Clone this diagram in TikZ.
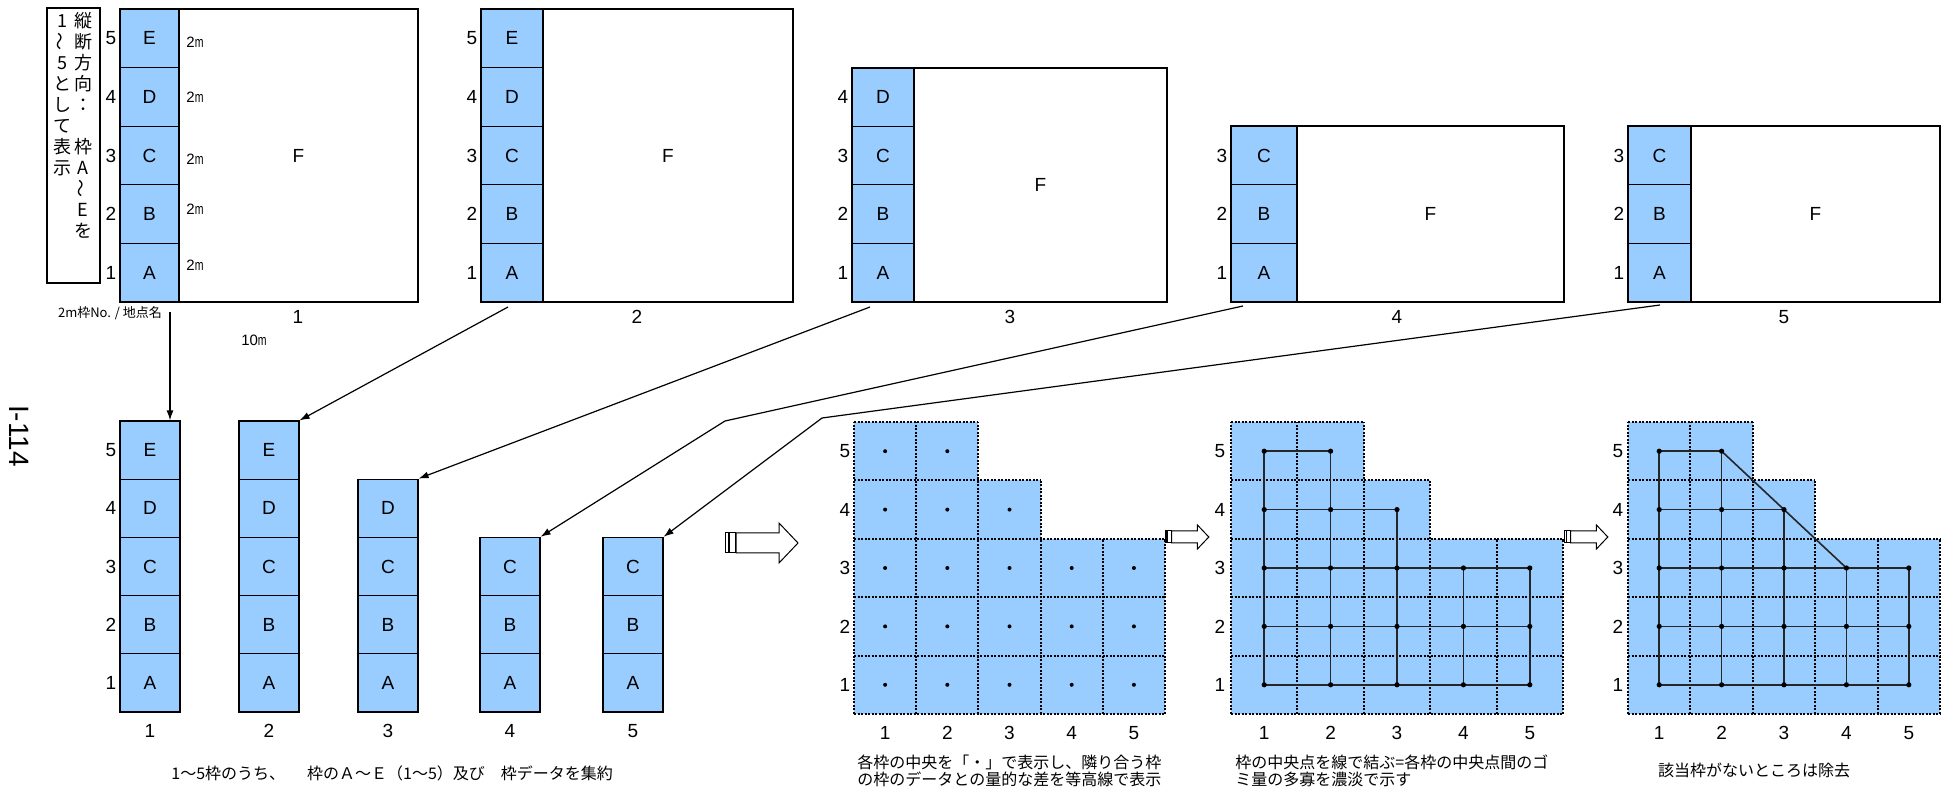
\documentclass[tikz,border=0pt]{standalone}
\usepackage{fontspec}
\setmainfont{Liberation Sans}
\newfontfamily\cjk{Noto Sans CJK JP}
\usetikzlibrary{arrows.meta}
\definecolor{cellblue}{HTML}{99CCFF}

\tikzset{
  blk/.style={draw, line width=0.6pt, fill=cellblue, inner sep=0pt, font=\fontsize{9.5}{11}\selectfont},
  num/.style={inner sep=0pt, font=\fontsize{9.5}{11}\selectfont},
  small/.style={inner sep=0pt, font=\fontsize{7.5}{9}\selectfont},
  vchar/.style={inner sep=0pt, font=\cjk\fontsize{9}{10}\selectfont},
  gcell/.style={fill=cellblue, inner sep=0pt},
  gline/.style={line width=1pt, dash pattern=on 1pt off 0.75pt},
  conn/.style={line width=0.6pt, -{Latex[length=5pt,width=3.5pt]}},
  net/.style={line width=0.8pt, black!85},
  captxt/.style={inner sep=0pt, font=\cjk\fontsize{8}{8.5}\selectfont, align=left},
  barrow/.style={draw, line width=0.5pt, fill=white}
}

\begin{document}
\begin{tikzpicture}[x=0.5pt,y=-0.5pt]
\useasboundingbox (0,0) rectangle (1943,795);

% page number
\node[rotate=-90, font=\fontsize{14}{16}\selectfont] (pg) at (19,436) {I-114};

% vertical legend
\draw[line width=0.6pt] (47,8) rectangle (100,283);
\foreach \ch [count=\i] in {縦,断,方,向,：,,枠,A,\rotatebox{90}{～},E,を}
  \node[vchar] (vr\i) at (83,{21*\i}) {\ch};
\foreach \ch [count=\i] in {1,\rotatebox{90}{～},5,と,し,て,表,示}
  \node[vchar] (vl\i) at (62,{21*\i}) {\ch};

% top blocks 1-5
\foreach \n/\l/\w/\r/\k/\c in {1/120/29.5/418/5/298, 2/481/31/793/5/637, 3/852/31/1167/4/1010,
    4/1231/33/1564/3/1397, 5/1628/31.5/1940/3/1784} {
  \draw[line width=1pt, fill=white] (\l,{302-\k*58.6}) rectangle (\r,302);
  \foreach \i/\t in {1/A,2/B,3/C,4/D,5/E} {
    \ifnum\i>\k\relax\else
      \node[blk, minimum width=\w pt, minimum height=29.3pt] (t\n\t) at ({\l+\w},{302-(\i-0.5)*58.6}) {\t};
      \node[num] (ty\n\i) at (\l-9,{302-(\i-0.5)*58.6}) {\i};
    \fi
  }
  \draw[line width=1pt] (\l,{302-\k*58.6}) rectangle (\r,302);
  \node[num] (f\n) at ({(\l+2*\w+\r)/2},{302-\k*29.3}) {F};
  \node[num] (tx\n) at (\c,317) {\n};
}
\foreach \y [count=\i] in {42,97,159,209,265}
  \node[small] (m\i) at (195,\y) {2\scalebox{0.7}[1]{m}};
\node[small] (m10) at (254,340) {10\scalebox{0.7}[1]{m}};
\node[inner sep=0pt, font=\cjk\fontsize{6.5}{8}\selectfont] (nolbl) at (110,313) {2m枠No. / 地点名};

% stacked frames
\foreach \n/\l/\k in {1/120/5, 2/239/5, 3/358/4, 4/480/3, 5/603/3} {
  \foreach \i/\t in {1/A,2/B,3/C,4/D,5/E} {
    \ifnum\i>\k\relax\else
      \node[blk, minimum width=30pt, minimum height=29.1pt] (s\n\t) at (\l+30,{712-(\i-0.5)*58.2}) {\t};
    \fi
  }
  \node[num] (sx\n) at (\l+30,731) {\n};
}
\foreach \i in {1,...,5}
  \node[num] (sy\i) at (111,{712-(\i-0.5)*58.2}) {\i};

% connectors
\coordinate (p1) at (170,312);
\coordinate (p2) at (508,307);
\coordinate (p3) at (870,307);
\coordinate (p4) at (1243,306);
\coordinate (p5) at (1660,305);
\coordinate (k4) at (725,421);
\coordinate (k5) at (822,418);
\draw[conn] (p1) -- (p1 |- s1E.north);
\draw[conn] (p2) -- (s2E.north east);
\draw[conn] (p3) -- (s3D.north east);
\draw[conn] (p4) -- (k4) -- (s4C.north east);
\draw[conn] (p5) -- (k5) -- (s5C.north east);

% hollow arrows
\foreach \x/\y/\s in {725/543/1, 1165/537/0.6, 1564/537/0.6} {
  \begin{scope}[shift={(\x,\y)}, scale=\s]
    \draw[barrow] (0,-10) rectangle (3.3,10);
    \draw[barrow] (4.3,-10) rectangle (10,10);
    \draw[barrow] (11,-10) -- (54,-10) -- (54,-20) -- (73,0) -- (54,20) -- (54,10) -- (11,10) -- cycle;
  \end{scope}
}

% grids
\foreach \g/\l/\p/\rx in {1/854/31.1/845, 2/1231/33.2/1220, 3/1628/31.2/1618} {
  \foreach \c/\k in {1/5,2/5,3/4,4/3,5/3} {
    \foreach \r in {1,...,\k}
      \node[gcell, minimum width=\p pt, minimum height=29.2pt] (g\g-\c-\r) at ({\l+(\c-0.5)*2*\p},{714-(\r-0.5)*58.4}) {};
    \node[num] (gx\g\c) at ({\l+(\c-0.5)*2*\p},733) {\c};
  }
  \foreach \j/\m in {0/5,1/5,2/5,3/5,4/3,5/2}
    \draw[gline] (\l,{714-\j*58.4}) -- ({\l+\m*2*\p},{714-\j*58.4});
  \foreach \i/\k in {0/5,1/5,2/5,3/4,4/3,5/3}
    \draw[gline] ({\l+\i*2*\p},714) -- ({\l+\i*2*\p},{714-\k*58.4});
  \foreach \r in {1,...,5}
    \node[num] (gy\g\r) at (\rx,{714-(\r-0.5)*58.4}) {\r};
}
\foreach \g in {2,3} {
  \foreach \r/\m in {1/5,2/5,3/5,4/3,5/2}
    \draw[net] (g\g-1-\r.center) -- (g\g-\m-\r.center);
  \foreach \c/\k in {1/5,2/5,3/4,4/3,5/3}
    \draw[net] (g\g-\c-1.center) -- (g\g-\c-\k.center);
}
\draw[net] (g3-2-5.center) -- (g3-4-3.center);
\foreach \c/\k in {1/5,2/5,3/4,4/3,5/3}
  \foreach \r in {1,...,\k} {
    \fill (g1-\c-\r) circle (1pt);
    \fill (g2-\c-\r) circle (1.3pt);
    \fill (g3-\c-\r) circle (1.3pt);
  }

% captions
\node[captxt, anchor=west] (cap0) at (171,773) {1～5枠のうち、\hspace{11pt}枠のＡ～Ｅ（1～5）及び\hspace{8pt}枠データを集約};
\node[captxt, anchor=west] (cap1) at (857,770.5) {各枠の中央を「・」で表示し、隣り合う枠\\の枠のデータとの量的な差を等高線で表示};
\node[captxt, anchor=west] (cap2) at (1235,770.5) {枠の中央点を線で結ぶ=各枠の中央点間のゴ\\ミ量の多寡を濃淡で示す};
\node[captxt] (cap3) at (1754,770) {該当枠がないところは除去};
\end{tikzpicture}
\end{document}
